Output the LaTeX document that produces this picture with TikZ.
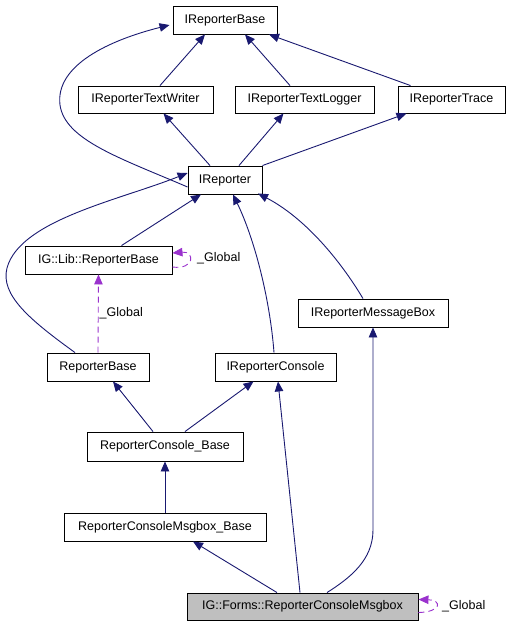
\documentclass[tikz,border=0pt]{standalone}
\usepackage{fontspec}
\setmainfont{Liberation Sans}
\usetikzlibrary{arrows.meta}
\definecolor{edgeblue}{HTML}{191970}
\definecolor{globpurple}{HTML}{9A32CD}
\definecolor{nodegray}{HTML}{BFBFBF}
\tikzset{
  cls/.style={draw=black, line width=0.9pt, fill=white, rectangle, inner sep=0pt, minimum height=28pt, font=\fontsize{12.5}{14}\selectfont},
  edge/.style={draw=edgeblue, line width=0.9pt, -{Triangle[length=10pt,width=8.5pt]}},
  glob/.style={draw=globpurple, line width=0.9pt, dash pattern=on 6pt off 4pt, -{Triangle[length=10pt,width=8.5pt,fill=globpurple]}},
  lbl/.style={font=\fontsize{12.5}{14}\selectfont, inner sep=0pt}
}
\begin{document}
\begin{tikzpicture}[x=1pt,y=-1pt]
\useasboundingbox (0,0) rectangle (511,627);
\node[cls, minimum width=104pt] (base) at (225,20) {IReporterBase};
\node[cls, minimum width=135pt, minimum height=27pt] (tw) at (145.5,99.5) {IReporterTextWriter};
\node[cls, minimum width=139pt, minimum height=27pt] (tl) at (304.5,99.5) {IReporterTextLogger};
\node[cls, minimum width=107pt, minimum height=27pt] (tr) at (451.5,99.5) {IReporterTrace};
\node[cls, minimum width=74pt] (ir) at (225,180) {IReporter};
\node[cls, minimum width=147pt] (lib) at (98.5,260) {IG::Lib::ReporterBase};
\node[cls, minimum width=150pt] (mb) at (373,313) {IReporterMessageBox};
\node[cls, minimum width=102pt] (rb) at (98,367) {ReporterBase};
\node[cls, minimum width=121pt] (con) at (275.5,367) {IReporterConsole};
\node[cls, minimum width=156pt, minimum height=29pt] (crb) at (165,446.5) {ReporterConsole\_Base};
\node[cls, minimum width=202pt] (mbb) at (165,527) {ReporterConsoleMsgbox\_Base};
\node[cls, fill=nodegray, minimum width=231pt, minimum height=27pt] (forms) at (302.5,606.5) {IG::Forms::ReporterConsoleMsgbox};

% IReporterBase inheritance
\draw[edge] ([xshift=14.5pt]tw.north) -- ([xshift=-20pt]base.south);
\draw[edge] ([xshift=-14.5pt]tl.north) -- ([xshift=20pt]base.south);
\draw[edge] ([xshift=-41pt]tr.north) -- ([xshift=44pt]base.south);
\draw[edge] ([yshift=-7pt]ir.west) .. controls (120,158) and (65,140) .. (60,105) .. controls (55,65) and (110,40) .. ([xshift=-3pt,yshift=-5pt]base.west);

% IReporter
\draw[edge] ([xshift=-15pt]ir.north) -- ([xshift=18pt]tw.south);
\draw[edge] ([xshift=14pt]ir.north) -- ([xshift=-21pt]tl.south);
\draw[edge] (ir.north east) -- ([xshift=-45pt]tr.south);

\draw[edge] ([xshift=23pt]lib.north) -- ([xshift=-24pt]ir.south);
\draw[edge] ([xshift=-23pt]rb.north) .. controls (30,320) and (0,295) .. (7,268) .. controls (20,220) and (120,200) .. ([yshift=7pt]ir.west);
\draw[edge] ([xshift=-1.5pt]con.north) .. controls (270,300) and (255,240) .. ([xshift=8pt]ir.south);
\draw[edge] ([xshift=-10pt]mb.north) .. controls (340,260) and (305,218) .. ([xshift=33pt,yshift=1pt]ir.south);

% _Global relations
\draw[glob] (rb.north) -- node[lbl, right=1pt, pos=0.5] {\_Global} (lib.south);
\draw[glob] ([yshift=-7pt]lib.east) .. controls (195,270) and (195,251) .. ([yshift=7pt]lib.east);
\node[lbl, anchor=west] (libglob) at (197,258) {\_Global};

% ReporterConsole_Base
\draw[edge] ([xshift=-12pt]crb.north) -- ([xshift=15pt]rb.south);
\draw[edge] ([xshift=20pt]crb.north) -- ([xshift=-22pt]con.south);
\draw[edge] (mbb.north) -- (crb.south);

% Forms
\draw[edge] ([xshift=-25.5pt]forms.north) -- ([xshift=28pt]mbb.south);
\draw[edge] ([xshift=-2.5pt]forms.north) -- ([xshift=2.5pt]con.south);
\draw[edge] ([xshift=24.5pt]forms.north) .. controls (350,578) and (373,560) .. (373,530) -- (mb.south);
\draw[glob] ([yshift=-6pt]forms.east) .. controls (442,612) and (442,600) .. ([yshift=7pt]forms.east);
\node[lbl, anchor=west] (formsglob) at (442,606) {\_Global};
\end{tikzpicture}
\end{document}
